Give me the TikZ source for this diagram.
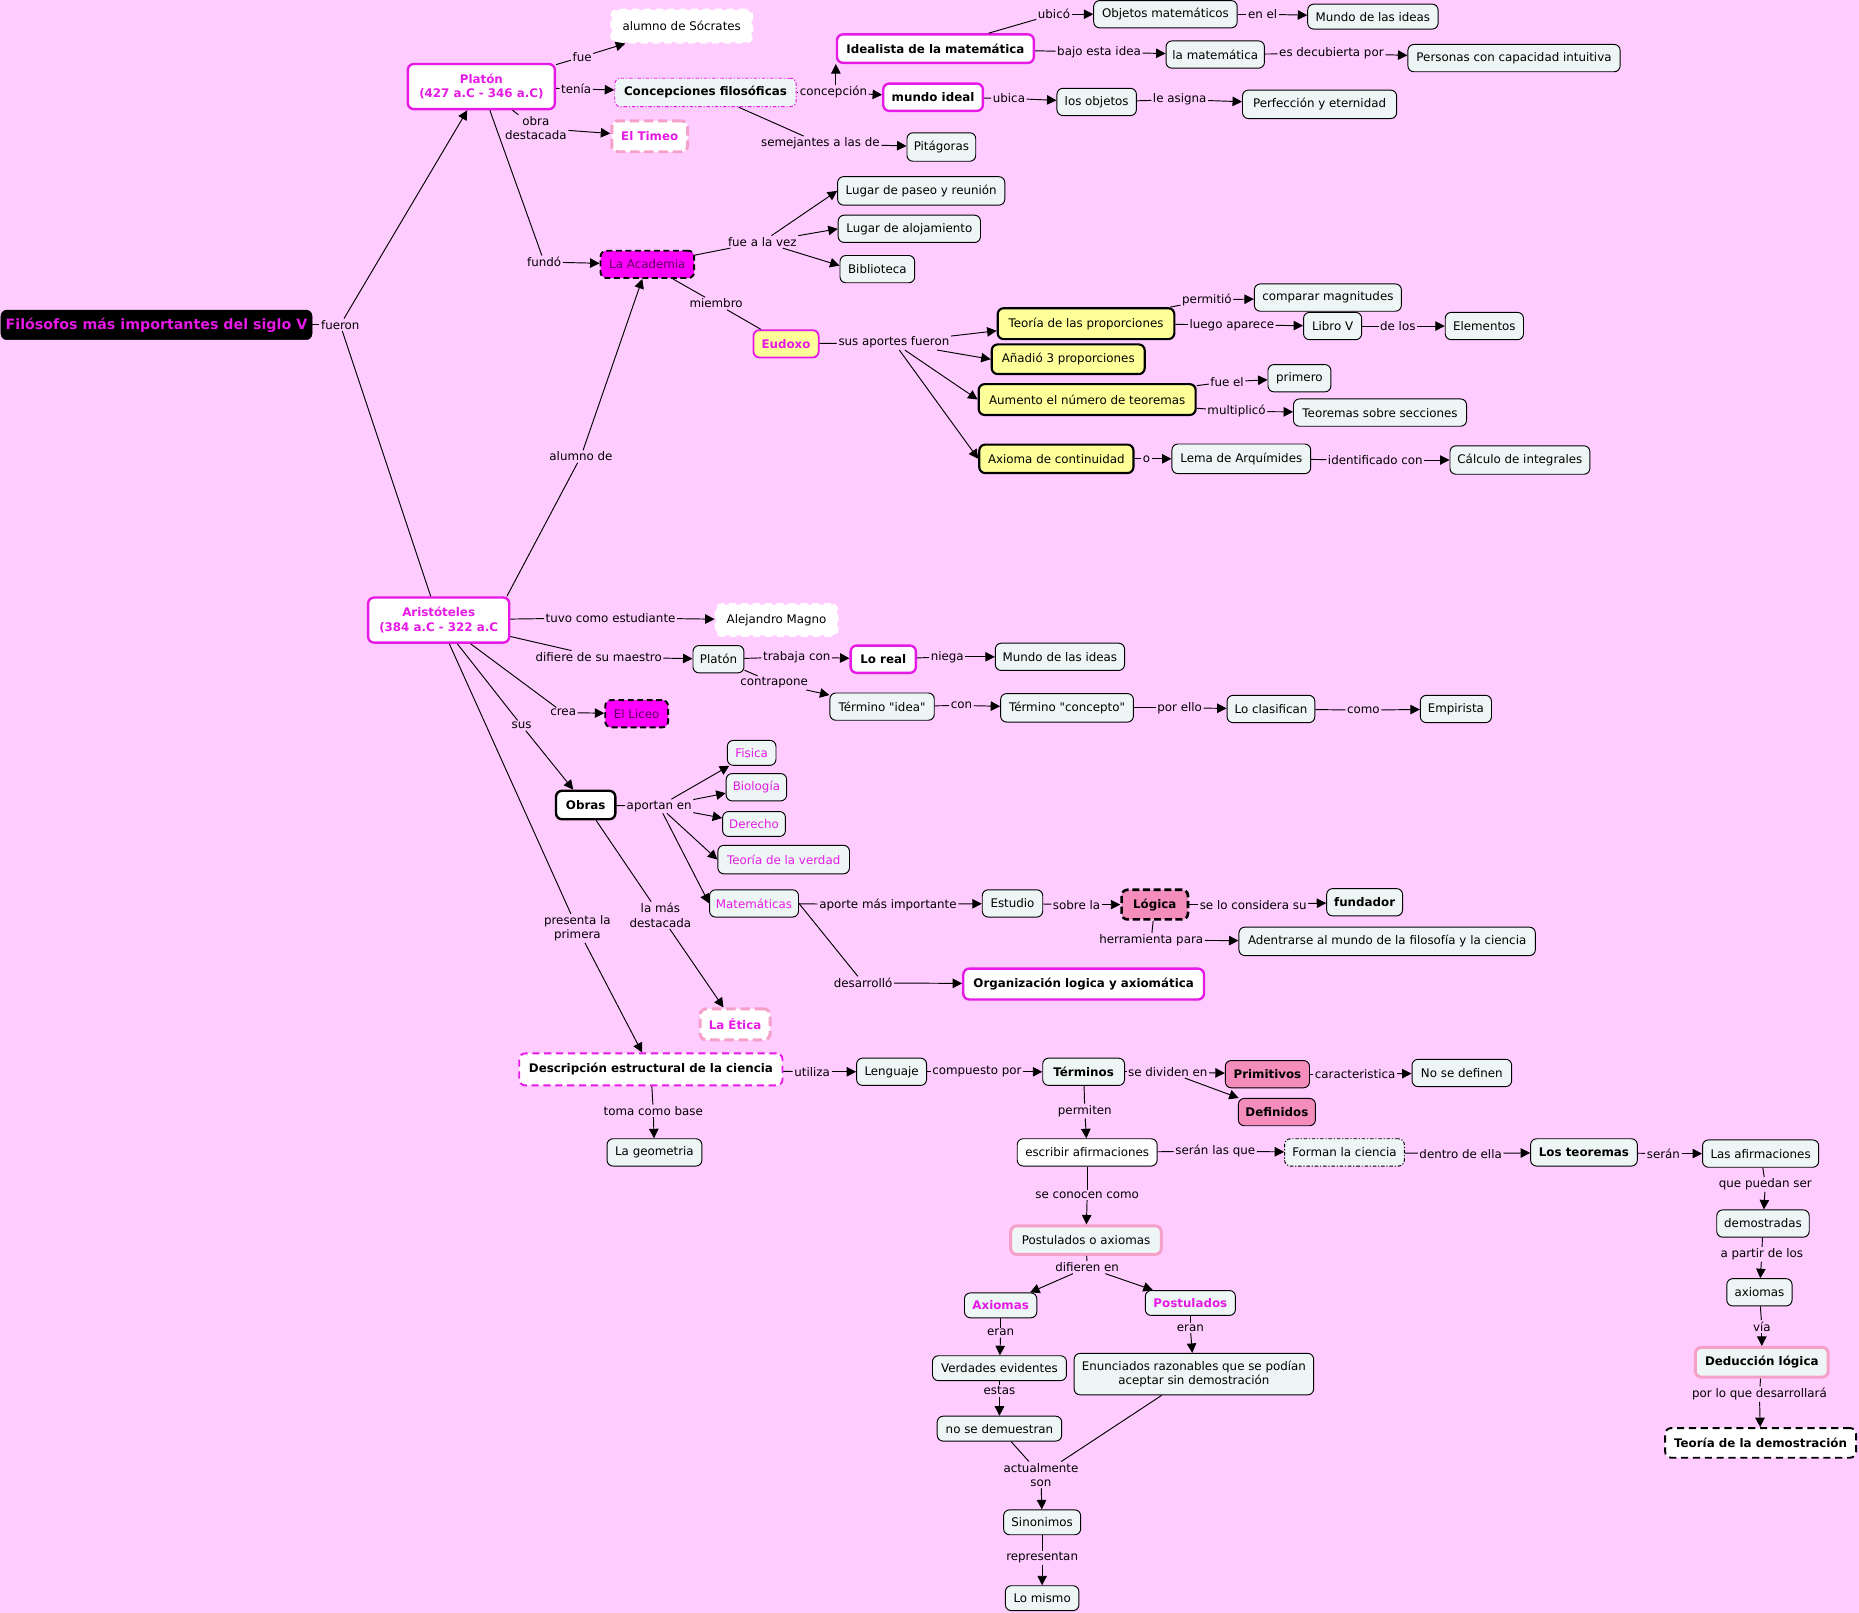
\documentclass[tikz,border=0pt]{standalone}
\usepackage{fontspec}
\setmainfont{DejaVu Sans}[Ligatures=TeXOff]
\usetikzlibrary{arrows.meta}
\definecolor{bg}{HTML}{FFCCFF}
\definecolor{nfill}{HTML}{EEF5F5}
\definecolor{mag}{HTML}{E619E6}
\definecolor{magfill}{HTML}{FF00FF}
\definecolor{darkmag}{HTML}{5E005E}
\definecolor{pinkfill}{HTML}{F48CBC}
\definecolor{pinkline}{HTML}{F5A0C8}
\definecolor{yel}{HTML}{FFFF99}
\newcommand\fsz{\fontsize{10}{12}\selectfont}
\newcommand\fszb{\fontsize{10}{12}\selectfont\bfseries}
\tikzset{
  base/.style={rounded corners=5pt, minimum height=23pt, inner xsep=4pt, inner ysep=2pt, font=\fsz, align=center, text=black},
  gbox/.style={base, fill=nfill, draw=black, line width=0.8pt},
  wbox/.style={base, fill=white, draw=black, line width=0.8pt},
  mbox/.style={base, fill=white, draw=mag, line width=2pt},
  ybox/.style={base, fill=yel, draw=black, line width=1.8pt},
  wdash/.style={base, fill=white, draw=white, line width=2.5pt, dash pattern=on 6pt off 4pt},
  pdash/.style={base, fill=white, draw=pinkline, line width=2.5pt, dash pattern=on 8pt off 4pt},
  mfdash/.style={base, fill=magfill, draw=black, line width=1.6pt, dash pattern=on 5pt off 3pt, text=darkmag},
  pkfill/.style={base, fill=pinkfill, draw=black, line width=0.8pt},
  pkline/.style={base, fill=nfill, draw=pinkline, line width=2.5pt},
  bf/.style={font=\fszb},
  magtext/.style={text=mag},
  lbl/.style={font=\fsz, inner sep=1.2pt, align=center, text=black},
  ln/.style={line width=0.8pt},
  arr/.style={line width=0.8pt, -{Triangle[length=8pt,width=8pt]}},
}
\begin{document}
\begin{tikzpicture}[x=1pt,y=-1pt]
\fill[bg] (0,0) rectangle (1568,1360.5);
\useasboundingbox (0,0) rectangle (1568,1360.5);

% ---------- nodes ----------
\node[base, fill=black, draw=black, text=mag, font=\fontsize{12}{14}\selectfont\bfseries, minimum width=260pt, minimum height=25pt] (title) at (132,274) {Filósofos más importantes del siglo V};

\node[mbox, bf, magtext, minimum width=124pt, minimum height=38pt] (platon) at (406,73) {Platón\\(427 a.C - 346 a.C)};
\node[wdash, minimum width=118pt, minimum height=27pt] (socrates) at (575,22) {alumno de Sócrates};
\node[base, fill=nfill, draw=mag, line width=0.8pt, dash pattern=on 3pt off 1.5pt on 1pt off 1.5pt, bf, minimum width=153pt, minimum height=24pt] (concep) at (595,78) {Concepciones filosóficas};
\node[pdash, bf, magtext, minimum width=64pt, minimum height=26pt] (timeo) at (548,115) {El Timeo};
\node[mbox, bf, minimum width=166pt, minimum height=24pt] (idealista) at (789,41) {Idealista de la matemática};
\node[mbox, bf, minimum width=84pt] (mundoideal) at (787,82) {mundo ideal};
\node[gbox, minimum width=121pt] (objmat) at (983,12) {Objetos matemáticos};
\node[gbox, minimum width=110pt, minimum height=21pt] (mundoideas1) at (1158,14) {Mundo de las ideas};
\node[gbox, minimum width=83pt] (lamat) at (1025,46) {la matemática};
\node[gbox, minimum width=179pt] (personas) at (1277,49) {Personas con capacidad intuitiva};
\node[gbox, minimum width=67pt] (losobjetos) at (925,86) {los objetos};
\node[gbox, minimum width=130pt, minimum height=24pt] (perfeccion) at (1113,88) {Perfección y eternidad};
\node[gbox, minimum width=58pt, minimum height=24pt] (pitagoras) at (794,124) {Pitágoras};
\node[gbox, minimum width=141pt, minimum height=24pt] (paseo) at (777,161) {Lugar de paseo y reunión};
\node[gbox, minimum width=120pt] (alojamiento) at (767,193) {Lugar de alojamiento};
\node[gbox, minimum width=63pt] (biblioteca) at (740,227) {Biblioteca};
\node[mfdash, minimum width=79pt] (academia) at (546,223) {La Academia};
\node[base, fill=yel, draw=mag, line width=1.5pt, bf, magtext, minimum width=55pt] (eudoxo) at (663,290) {Eudoxo};
\node[ybox, minimum width=149pt, minimum height=26pt] (teoriaprop) at (916,273) {Teoría de las proporciones};
\node[ybox, minimum width=129pt, minimum height=25pt] (anadio) at (901,303) {Añadió 3 proporciones};
\node[ybox, minimum width=183pt, minimum height=26pt] (aumento) at (917,337) {Aumento el número de teoremas};
\node[ybox, minimum width=130pt, minimum height=24pt] (axiomacont) at (891,387) {Axioma de continuidad};
\node[gbox, minimum width=124pt] (comparar) at (1120,251) {comparar magnitudes};
\node[gbox, minimum width=49pt] (librov) at (1124,275) {Libro V};
\node[gbox, minimum width=66pt] (elementos) at (1252,275) {Elementos};
\node[gbox, minimum width=53pt] (primero) at (1096,319) {primero};
\node[gbox, minimum width=146pt] (teorsecc) at (1164,348) {Teoremas sobre secciones};
\node[gbox, minimum width=117pt, minimum height=25pt] (lema) at (1047,387) {Lema de Arquímides};
\node[gbox, minimum width=118pt, minimum height=24pt] (calculo) at (1282,388) {Cálculo de integrales};

\node[mbox, bf, magtext, minimum width=119pt, minimum height=38pt] (aristoteles) at (370,523) {Aristóteles\\(384 a.C - 322 a.C};
\node[wdash, minimum width=102pt, minimum height=26pt] (alejandro) at (655,523) {Alejandro Magno};
\node[gbox, minimum width=43pt] (platon2) at (606,556) {Platón};
\node[mbox, bf, minimum width=55pt] (loreal) at (745,556) {Lo real};
\node[gbox, minimum width=109pt] (mundoideas2) at (894,554) {Mundo de las ideas};
\node[gbox, minimum width=88pt] (termidea) at (744,596) {Término "idea"};
\node[gbox, minimum width=112pt, minimum height=24pt] (termconc) at (900,597) {Término "concepto"};
\node[gbox, minimum width=74pt] (clasifican) at (1072,598) {Lo clasifican};
\node[gbox, minimum width=60pt] (empirista) at (1228,598) {Empirista};
\node[mfdash, minimum width=53pt] (liceo) at (537,602) {El Liceo};
\node[base, fill=white, draw=black, line width=2pt, bf, minimum width=50pt, minimum height=24pt] (obras) at (494,679) {Obras};
\node[gbox, magtext, minimum width=41pt, minimum height=21pt] (fisica) at (634,635) {Fisica};
\node[gbox, magtext, minimum width=51pt] (biologia) at (638,664) {Biología};
\node[gbox, magtext, minimum width=53pt, minimum height=21pt] (derecho) at (636,695) {Derecho};
\node[gbox, magtext, minimum width=111pt, minimum height=24pt] (verdad) at (661,725) {Teoría de la verdad};
\node[gbox, magtext, minimum width=75pt] (matematicas) at (636,762) {Matemáticas};
\node[gbox, minimum width=51pt] (estudio) at (854,762) {Estudio};
\node[base, fill=pinkfill, draw=black, line width=2.2pt, dash pattern=on 6pt off 3pt, bf, minimum width=56pt, minimum height=25pt] (logica) at (974,763) {Lógica};
\node[gbox, bf, minimum width=64pt] (fundador) at (1151,761) {fundador};
\node[gbox, minimum width=250pt, minimum height=24pt] (adentrarse) at (1170,794) {Adentrarse al mundo de la filosofía y la ciencia};
\node[mbox, bf, minimum width=203pt, minimum height=26pt] (organizacion) at (914,830) {Organización logica y axiomática};
\node[pdash, bf, magtext, minimum width=59pt, minimum height=26pt] (etica) at (620,864) {La Ética};
\node[base, fill=white, draw=mag, line width=1.6pt, dash pattern=on 6pt off 4pt, bf, minimum width=222pt, minimum height=27pt] (descripcion) at (549,902) {Descripción estructural de la ciencia};
\node[gbox, minimum width=80pt] (geometria) at (552,972) {La geometria};
\node[gbox, minimum width=59pt] (lenguaje) at (752,904) {Lenguaje};
\node[gbox, bf, minimum width=69pt] (terminos) at (914,904) {Términos};
\node[pkfill, bf, minimum width=71pt] (primitivos) at (1069,906) {Primitivos};
\node[pkfill, bf, minimum width=65pt] (definidos) at (1077,938) {Definidos};
\node[gbox, minimum width=84pt] (nodefinen) at (1233,905) {No se definen};
\node[wbox, minimum width=118pt] (escribir) at (917,972) {escribir afirmaciones};
\node[base, fill=nfill, draw=black, line width=0.8pt, dash pattern=on 3pt off 1.5pt on 1pt off 1.5pt, minimum width=101pt] (forman) at (1134,972) {Forman la ciencia};
\node[gbox, bf, minimum width=90pt] (teoremas) at (1336,972) {Los teoremas};
\node[gbox, minimum width=98pt] (afirmaciones) at (1485,973) {Las afirmaciones};
\node[gbox, minimum width=78pt] (demostradas) at (1487,1032) {demostradas};
\node[gbox, minimum width=55pt] (axiomas2) at (1484,1090) {axiomas};
\node[pkline, bf, minimum width=112pt, minimum height=25pt] (deduccion) at (1486,1149) {Deducción lógica};
\node[base, fill=white, draw=black, line width=1.6pt, dash pattern=on 6pt off 4pt, bf, minimum width=161pt, minimum height=25pt] (teoriadem) at (1485,1217) {Teoría de la demostración};
\node[pkline, minimum width=127pt, minimum height=24pt] (postax) at (916,1046) {Postulados o axiomas};
\node[gbox, bf, magtext, minimum width=61pt, minimum height=21pt] (axiomas) at (844,1101) {Axiomas};
\node[gbox, bf, magtext, minimum width=76pt, minimum height=21pt] (postulados) at (1004,1099) {Postulados};
\node[gbox, minimum width=113pt, minimum height=21pt] (verdades) at (843,1154) {Verdades evidentes};
\node[gbox, minimum width=202pt, minimum height=35pt] (enunciados) at (1007,1159) {Enunciados razonables que se podían\\aceptar sin demostración};
\node[gbox, minimum width=105pt, minimum height=21pt] (nodemuestran) at (843,1205) {no se demuestran};
\node[gbox, minimum width=65pt, minimum height=21pt] (sinonimos) at (879,1284) {Sinonimos};
\node[gbox, minimum width=62pt, minimum height=21pt] (lomismo) at (879,1348) {Lo mismo};

% ---------- labels ----------
\node[lbl] (l_fueron) at (287,274) {fueron};
\node[lbl] (l_fue) at (491,48) {fue};
\node[lbl] (l_tenia) at (486,75) {tenía};
\node[lbl] (l_obra) at (452,108) {obra\\destacada};
\node[lbl] (l_fundo) at (459,221) {fundó};
\node[lbl] (l_concepcion) at (703,78) {concepción};
\node[lbl] (l_ubico) at (889,12) {ubicó};
\node[lbl] (l_bajo) at (927,44) {bajo esta idea};
\node[lbl] (l_ubica) at (851,83) {ubica};
\node[lbl] (l_enel) at (1065,12) {en el};
\node[lbl] (l_decubierta) at (1123,45) {es decubierta por};
\node[lbl] (l_asigna) at (995,84) {le asigna};
\node[lbl] (l_semejantes) at (692,121) {semejantes a las de};
\node[lbl] (l_alavez) at (643,204) {fue a la vez};
\node[lbl] (l_miembro) at (604,256) {miembro};
\node[lbl] (l_aportes) at (754,289) {sus aportes fueron};
\node[lbl] (l_permitio) at (1018,253) {permitió};
\node[lbl] (l_luego) at (1039,274) {luego aparece};
\node[lbl] (l_delos) at (1179,275) {de los};
\node[lbl] (l_fueel) at (1035,322) {fue el};
\node[lbl] (l_multiplico) at (1043,347) {multiplicó};
\node[lbl] (l_o) at (967,387) {o};
\node[lbl] (l_identificado) at (1160,388) {identificado con};
\node[lbl] (l_alumno) at (490,385) {alumno de};
\node[lbl] (l_tuvo) at (515,521) {tuvo como estudiante};
\node[lbl] (l_difiere) at (505,554) {difiere de su maestro};
\node[lbl] (l_trabaja) at (672,554) {trabaja con};
\node[lbl] (l_contrapone) at (653,576) {contrapone};
\node[lbl] (l_niega) at (799,554) {niega};
\node[lbl] (l_con) at (811,595) {con};
\node[lbl] (l_porello) at (995,597) {por ello};
\node[lbl] (l_como) at (1150,599) {como};
\node[lbl] (l_crea) at (475,601) {crea};
\node[lbl] (l_sus) at (440,612) {sus};
\node[lbl] (l_aportan) at (556,680) {aportan en};
\node[lbl] (l_masdest) at (557,772) {la más\\destacada};
\node[lbl] (l_presenta) at (487,783) {presenta la\\primera};
\node[lbl] (l_aporte) at (749,763) {aporte más importante};
\node[lbl] (l_sobre) at (908,763) {sobre la};
\node[lbl] (l_considera) at (1057,763) {se lo considera su};
\node[lbl] (l_herramienta) at (971,793) {herramienta para};
\node[lbl] (l_desarrollo) at (728,829) {desarrolló};
\node[lbl] (l_utiliza) at (685,904) {utiliza};
\node[lbl] (l_compuesto) at (824,904) {compuesto por};
\node[lbl] (l_dividen) at (985,904) {se dividen en};
\node[lbl] (l_caract) at (1143,906) {caracteristica};
\node[lbl] (l_toma) at (551,937) {toma como base};
\node[lbl] (l_permiten) at (915,937) {permiten};
\node[lbl] (l_seranque) at (1025,971) {serán las que};
\node[lbl] (l_dentro) at (1232,973) {dentro de ella};
\node[lbl] (l_seran) at (1403,973) {serán};
\node[lbl] (l_conocen) at (917,1008) {se conocen como};
\node[lbl] (l_puedan) at (1489,999) {que puedan ser};
\node[lbl] (l_partir) at (1486,1058) {a partir de los};
\node[lbl] (l_via) at (1486,1119) {vía};
\node[lbl] (l_porlo) at (1484,1176) {por lo que desarrollará};
\node[lbl] (l_difieren) at (917,1069) {difieren en};
\node[lbl] (l_eran1) at (844,1124) {eran};
\node[lbl] (l_eran2) at (1004,1120) {eran};
\node[lbl] (l_estas) at (843,1173) {estas};
\node[lbl] (l_actual) at (878,1244) {actualmente\\son};
\node[lbl] (l_representan) at (879,1314) {representan};

% ---------- connectors ----------
\draw[ln] (title) -- (l_fueron);
\draw[arr] (l_fueron) -- (platon);
\draw[ln] (l_fueron) -- (aristoteles);

\draw[ln] (platon) -- (l_fue);
\draw[arr] (l_fue) -- (socrates);
\draw[ln] (platon) -- (l_tenia);
\draw[arr] (l_tenia) -- (concep);
\draw[ln] (platon) -- (l_obra);
\draw[arr] (l_obra) -- (timeo);
\draw[ln] (platon) -- (l_fundo);
\draw[arr] (l_fundo) -- (academia);

\draw[ln] (concep) -- (l_concepcion);
\draw[arr] ([xshift=2pt]l_concepcion.north) -- ([xshift=2pt]l_concepcion.north |- idealista.south);
\draw[arr] (l_concepcion) -- (mundoideal);
\draw[ln] (concep) -- (l_semejantes);
\draw[arr] (l_semejantes) -- (pitagoras);

\draw[ln] (idealista) -- (l_ubico);
\draw[arr] (l_ubico) -- (objmat);
\draw[ln] (idealista) -- (l_bajo);
\draw[arr] (l_bajo) -- (lamat);
\draw[ln] (objmat) -- (l_enel);
\draw[arr] (l_enel) -- (mundoideas1);
\draw[ln] (lamat) -- (l_decubierta);
\draw[arr] (l_decubierta) -- (personas);
\draw[ln] (mundoideal) -- (l_ubica);
\draw[arr] (l_ubica) -- (losobjetos);
\draw[ln] (losobjetos) -- (l_asigna);
\draw[arr] (l_asigna) -- (perfeccion);

\draw[ln] (academia) -- (l_alavez);
\draw[arr] (l_alavez) -- (paseo.west);
\draw[arr] (l_alavez) -- (alojamiento.west);
\draw[arr] (l_alavez) -- ([yshift=3pt]biblioteca.west);
\draw[ln] (academia) -- (l_miembro);
\draw[ln] (l_miembro) -- (eudoxo);

\draw[ln] (eudoxo) -- (l_aportes);
\draw[arr] (l_aportes) -- ([yshift=-6pt]teoriaprop.west);
\draw[arr] (l_aportes) -- (anadio.west);
\draw[arr] (l_aportes) -- (aumento.west);
\draw[arr] (l_aportes) -- (axiomacont.west);
\draw[ln] (teoriaprop) -- (l_permitio);
\draw[arr] (l_permitio) -- (comparar);
\draw[ln] (teoriaprop) -- (l_luego);
\draw[arr] (l_luego) -- (librov);
\draw[ln] (librov) -- (l_delos);
\draw[arr] (l_delos) -- (elementos);
\draw[ln] (aumento) -- (l_fueel);
\draw[arr] (l_fueel) -- (primero);
\draw[ln] (aumento) -- (l_multiplico);
\draw[arr] (l_multiplico) -- (teorsecc);
\draw[ln] (axiomacont) -- (l_o);
\draw[arr] (l_o) -- (lema);
\draw[ln] (lema) -- (l_identificado);
\draw[arr] (l_identificado) -- (calculo);

\draw[ln] ([xshift=-3pt]aristoteles.north east) -- (l_alumno);
\draw[arr] (l_alumno) -- (academia);
\draw[ln] (aristoteles) -- (l_tuvo);
\draw[arr] (l_tuvo) -- (alejandro);
\draw[ln] (aristoteles) -- (l_difiere);
\draw[arr] (l_difiere) -- (platon2);
\draw[ln] (platon2) -- (l_trabaja);
\draw[arr] (l_trabaja) -- (loreal);
\draw[ln] (loreal) -- (l_niega);
\draw[arr] (l_niega) -- (mundoideas2);
\draw[ln] (platon2) -- (l_contrapone);
\draw[arr] (l_contrapone) -- (termidea);
\draw[ln] (termidea) -- (l_con);
\draw[arr] (l_con) -- (termconc);
\draw[ln] (termconc) -- (l_porello);
\draw[arr] (l_porello) -- (clasifican);
\draw[ln] (clasifican) -- (l_como);
\draw[arr] (l_como) -- (empirista);
\draw[ln] (aristoteles) -- (l_crea);
\draw[arr] (l_crea) -- (liceo);
\draw[ln] (aristoteles) -- (l_sus);
\draw[arr] (l_sus) -- (obras);
\draw[ln] (aristoteles) -- (l_presenta);
\draw[arr] (l_presenta) -- (descripcion);

\draw[ln] (obras) -- (l_aportan);
\draw[arr] (l_aportan) -- (fisica);
\draw[arr] (l_aportan) -- (biologia);
\draw[arr] (l_aportan) -- (derecho);
\draw[arr] (l_aportan) -- (verdad.west);
\draw[arr] (l_aportan) -- (matematicas.west);
\draw[ln] (obras) -- (l_masdest);
\draw[arr] (l_masdest) -- (etica);

\draw[ln] (matematicas) -- (l_aporte);
\draw[arr] (l_aporte) -- (estudio);
\draw[ln] (estudio) -- (l_sobre);
\draw[arr] (l_sobre) -- (logica);
\draw[ln] (logica) -- (l_considera);
\draw[arr] (l_considera) -- (fundador);
\draw[ln] (logica) -- (l_herramienta);
\draw[arr] (l_herramienta) -- (adentrarse);
\draw[ln] (matematicas.east) -- (l_desarrollo);
\draw[arr] (l_desarrollo) -- (organizacion);

\draw[ln] (descripcion) -- (l_utiliza);
\draw[arr] (l_utiliza) -- (lenguaje);
\draw[ln] (descripcion) -- (l_toma);
\draw[arr] (l_toma) -- (geometria);
\draw[ln] (lenguaje) -- (l_compuesto);
\draw[arr] (l_compuesto) -- (terminos);
\draw[ln] (terminos) -- (l_dividen);
\draw[arr] (l_dividen) -- (primitivos);
\draw[arr] (l_dividen) -- (definidos);
\draw[ln] (primitivos) -- (l_caract);
\draw[arr] (l_caract) -- (nodefinen);
\draw[ln] (terminos) -- (l_permiten);
\draw[arr] (l_permiten) -- (escribir);
\draw[ln] (escribir) -- (l_seranque);
\draw[arr] (l_seranque) -- (forman);
\draw[ln] (forman) -- (l_dentro);
\draw[arr] (l_dentro) -- (teoremas);
\draw[ln] (teoremas) -- (l_seran);
\draw[arr] (l_seran) -- (afirmaciones);
\draw[ln] (afirmaciones) -- (l_puedan);
\draw[arr] (l_puedan) -- (demostradas);
\draw[ln] (demostradas) -- (l_partir);
\draw[arr] (l_partir) -- (axiomas2);
\draw[ln] (axiomas2) -- (l_via);
\draw[arr] (l_via) -- (deduccion);
\draw[ln] (deduccion) -- (l_porlo);
\draw[arr] (l_porlo) -- (teoriadem);

\draw[ln] (escribir) -- (l_conocen);
\draw[arr] (l_conocen) -- (postax);
\draw[ln] (postax) -- (l_difieren);
\draw[arr] (l_difieren) -- (axiomas);
\draw[arr] (l_difieren) -- (postulados);
\draw[ln] (axiomas) -- (l_eran1);
\draw[arr] (l_eran1) -- (verdades);
\draw[ln] (verdades) -- (l_estas);
\draw[arr] (l_estas) -- (nodemuestran);
\draw[ln] (postulados) -- (l_eran2);
\draw[arr] (l_eran2) -- (enunciados);
\draw[ln] (nodemuestran) -- (l_actual);
\draw[ln] (enunciados) -- (l_actual);
\draw[arr] (l_actual) -- (sinonimos);
\draw[ln] (sinonimos) -- (l_representan);
\draw[arr] (l_representan) -- (lomismo);
\end{tikzpicture}
\end{document}
